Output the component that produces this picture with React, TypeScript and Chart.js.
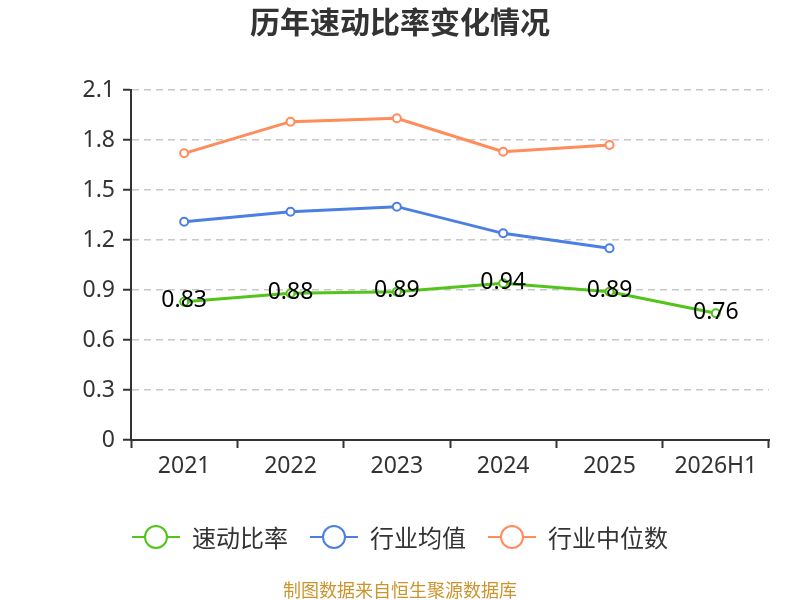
import { useEffect, useRef } from 'react'
import { Chart, registerables } from 'chart.js'

Chart.register(...registerables)

const years = ['2021', '2022', '2023', '2024', '2025', '2026H1']
const quickRatio = [0.83, 0.88, 0.89, 0.94, 0.89, 0.76]
const industryAvg = [1.31, 1.37, 1.40, 1.24, 1.15, null]
const industryMedian = [1.72, 1.91, 1.93, 1.73, 1.77, null]
const yTicks = [0, 0.3, 0.6, 0.9, 1.2, 1.5, 1.8, 2.1]

const seriesNames = ['速动比率', '行业均值', '行业中位数']
const colors = ['#52c41a', '#4b7fe3', '#ff8c5a']

const FONT = '"Noto Sans CJK SC", "Noto Sans", sans-serif'
const NUM_FONT = '"Noto Sans", "Noto Sans CJK SC", sans-serif'

// title, legend, footer and the value labels
const decorPlugin = {
  id: 'decor',
  afterDatasetsDraw(chart: Chart) {
    const ctx = chart.ctx
    const meta = chart.getDatasetMeta(0)
    ctx.save()
    ctx.font = `23px ${NUM_FONT}`
    ctx.fillStyle = '#000'
    ctx.textAlign = 'center'
    ctx.textBaseline = 'middle'
    meta.data.forEach((pt: any, i: number) => {
      ctx.fillText(quickRatio[i].toFixed(2), pt.x, pt.y - 1)
    })
    ctx.restore()
  },
  afterDraw(chart: Chart) {
    const ctx = chart.ctx
    ctx.save()
    ctx.textBaseline = 'middle'

    ctx.font = `bold 30px ${FONT}`
    ctx.fillStyle = '#333'
    ctx.textAlign = 'center'
    ctx.fillText('历年速动比率变化情况', 400, 22)

    // legend
    ctx.font = `24px ${FONT}`
    const lineW = 48
    const textGap = 12
    const itemGap = 22
    const widths = seriesNames.map(n => lineW + textGap + ctx.measureText(n).width)
    const total = widths.reduce((a, b) => a + b, 0) + itemGap * (widths.length - 1)
    let x = 400 - total / 2
    const y = 537
    seriesNames.forEach((name, i) => {
      ctx.strokeStyle = colors[i]
      ctx.lineWidth = 2
      ctx.beginPath()
      ctx.moveTo(x, y)
      ctx.lineTo(x + lineW, y)
      ctx.stroke()
      ctx.beginPath()
      ctx.arc(x + lineW / 2, y, 11, 0, Math.PI * 2)
      ctx.fillStyle = '#fff'
      ctx.fill()
      ctx.stroke()
      ctx.fillStyle = '#333'
      ctx.textAlign = 'left'
      ctx.fillText(name, x + lineW + textGap, y + 1)
      x += widths[i] + itemGap
    })

    ctx.font = `18px ${FONT}`
    ctx.fillStyle = '#c9952c'
    ctx.textAlign = 'center'
    ctx.fillText('制图数据来自恒生聚源数据库', 400, 590)
    ctx.restore()
  },
}

export default function App() {
  const canvasRef = useRef<HTMLCanvasElement>(null)

  useEffect(() => {
    document.body.style.margin = '0'
    if (!canvasRef.current) return
    const chart = new Chart(canvasRef.current, {
      type: 'line',
      data: {
        labels: years,
        datasets: [quickRatio, industryAvg, industryMedian].map((d, i) => ({
          label: seriesNames[i],
          data: d,
          borderColor: colors[i],
          backgroundColor: '#fff',
          borderWidth: 3,
          pointRadius: 4,
          pointBorderWidth: 2,
          pointBackgroundColor: '#fff',
          pointBorderColor: colors[i],
          tension: 0,
          spanGaps: false,
        })),
      },
      options: {
        animation: false,
        responsive: true,
        maintainAspectRatio: false,
        layout: { padding: { top: 90, right: 31, left: 0, bottom: 0 } },
        plugins: {
          legend: { display: false },
          title: { display: false },
          tooltip: { enabled: false },
        },
        scales: {
          x: {
            offset: true,
            grid: {
              offset: true,
              drawOnChartArea: false,
              tickLength: 8,
              tickColor: '#333',
              tickWidth: 2,
            },
            border: { color: '#333', width: 2 },
            ticks: {
              color: '#333',
              padding: 5,
              font: { size: 23, family: NUM_FONT },
              maxRotation: 0,
            },
            afterFit: (s: any) => { s.height = 160 },
          },
          y: {
            min: 0,
            max: 2.1,
            grid: {
              color: '#c8c8c8',
              lineWidth: 1.5,
              tickLength: 8,
              tickColor: '#333',
              tickWidth: 2,
            },
            border: { color: '#333', width: 2, dash: [7, 5] },
            ticks: {
              color: '#333',
              padding: 8,
              font: { size: 23, family: NUM_FONT },
              callback: (v: any) => String(Number(Number(v).toFixed(1))),
            },
            afterBuildTicks: (s: any) => { s.ticks = yTicks.map(v => ({ value: v })) },
            afterFit: (s: any) => { s.width = 131 },
          },
        },
      },
      plugins: [decorPlugin],
    })
    return () => chart.destroy()
  }, [])

  return (
    <div style={{ width: 800, height: 600, position: 'relative' }}>
      <canvas ref={canvasRef} />
    </div>
  )
}
